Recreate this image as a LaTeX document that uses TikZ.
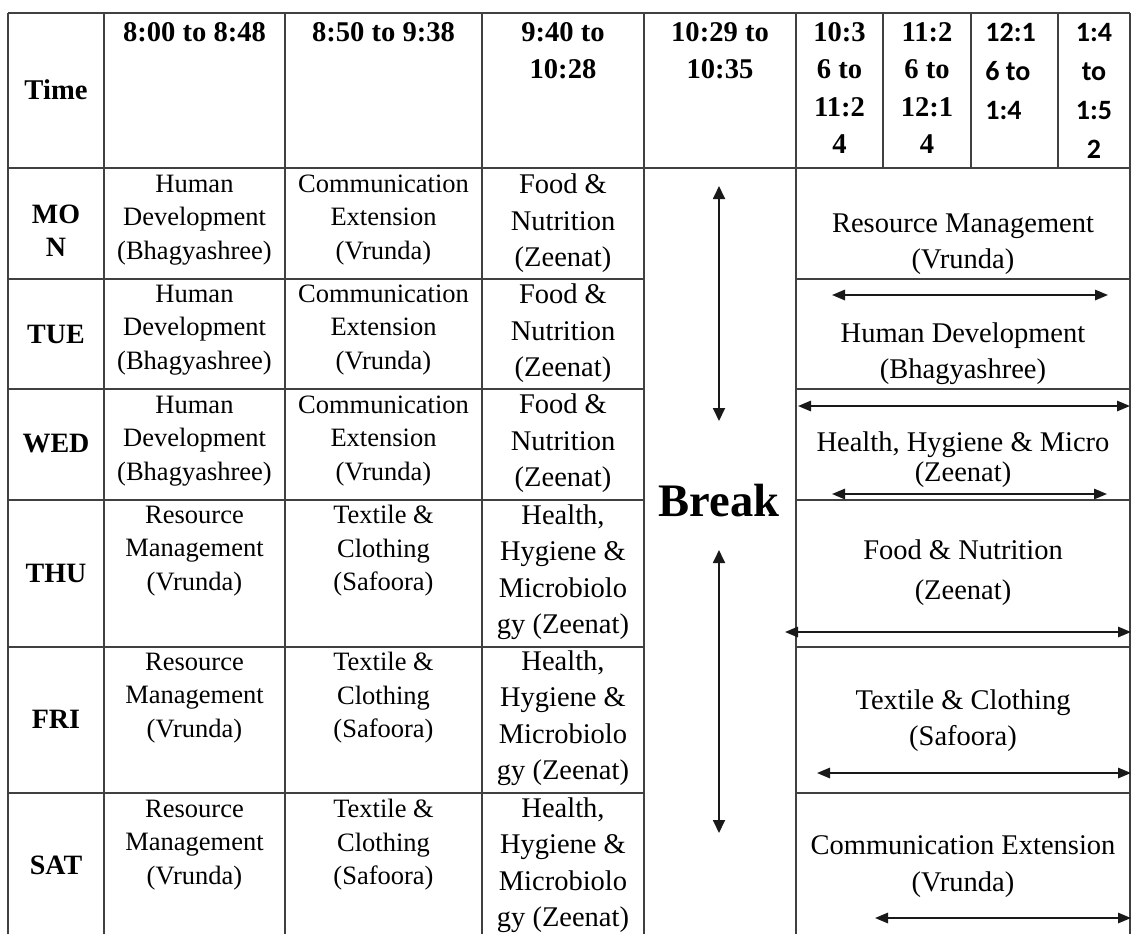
\documentclass[tikz,border=0pt]{standalone}
\usepackage{fontspec}
\setmainfont{Liberation Serif}
\newfontfamily\calib{Carlito}
\usetikzlibrary{arrows.meta}
\begin{document}
\begin{tikzpicture}[x=0.5pt,y=-0.5pt,
  grid/.style={draw=black!75,line width=0.9pt},
  hdr/.style={font=\bfseries\fontsize{14.3}{18.6}\selectfont,align=center,inner sep=0pt},
  hdrs/.style={font=\calib\bfseries\fontsize{14}{19.5}\selectfont,inner sep=0pt},
  day/.style={font=\bfseries\fontsize{14}{16.5}\selectfont,align=center,inner sep=0pt},
  cella/.style={font=\fontsize{13.25}{16.75}\selectfont,align=center,inner sep=0pt},
  cellb/.style={font=\fontsize{14.25}{18.25}\selectfont,align=center,inner sep=0pt},
  brk/.style={font=\bfseries\fontsize{23.3}{28}\selectfont,inner sep=0pt},
  twoway/.style={{Triangle[length=6.5pt,width=5.2pt]}-{Triangle[length=6.5pt,width=5.2pt]},line width=0.9pt,draw=black!90},
  twowayv/.style={{Triangle[length=6.5pt,width=6pt]}-{Triangle[length=6.5pt,width=6pt]},line width=0.9pt,draw=black!90}]
\useasboundingbox (0,0) rectangle (1131,934);
% grid
\draw[grid] (8,13) -- (1130,13);
\foreach \x in {8,104,285,482,644,796,1130} \draw[grid] (\x,13) -- (\x,934);
\foreach \x in {883,971,1058} \draw[grid] (\x,13) -- (\x,168);
\draw[grid] (8,168) -- (1130,168);
\foreach \y in {279,389,500,647,793} {
  \draw[grid] (8,\y) -- (644,\y);
  \draw[grid] (796,\y) -- (1130,\y);
}
% header
\node[hdr] (hTime) at (56,90) {Time};
\node[hdr] (h1) at (194.5,32) {8:00 to 8:48};
\node[hdr] (h2) at (383.5,32) {8:50 to 9:38};
\node[hdr] (h3) at (563,50.5) {9:40 to\\10:28};
\node[hdr] (h4) at (720,50.5) {10:29 to\\10:35};
\node[hdr] (h5) at (839.5,88) {10:3\\6 to\\11:2\\4};
\node[hdr] (h6) at (927,88) {11:2\\6 to\\12:1\\4};
\node[hdrs,align=left,anchor=west] (h7) at (985,71) {12:1\\6 to\\1:4};
\node[hdrs,align=center] (h8) at (1094,90.5) {1:4\\to\\1:5\\2};
% days
\node[day] (dMon) at (56,231) {MO\\N};
\node[day] (dTue) at (56,334) {TUE};
\node[day] (dWed) at (56,444) {WED};
\node[day] (dThu) at (56,573) {THU};
\node[day] (dFri) at (56,719) {FRI};
\node[day] (dSat) at (56,865) {SAT};
% column 1
\node[cella] (c1Mon) at (194.5,220) {Human\\Development\\(Bhagyashree)};
\node[cella] (c1Tue) at (194.5,330) {Human\\Development\\(Bhagyashree)};
\node[cella] (c1Wed) at (194.5,441) {Human\\Development\\(Bhagyashree)};
\node[cella] (c1Thu) at (194.5,551) {Resource\\Management\\(Vrunda)};
\node[cella] (c1Fri) at (194.5,698) {Resource\\Management\\(Vrunda)};
\node[cella] (c1Sat) at (194.5,845) {Resource\\Management\\(Vrunda)};
% column 2
\node[cella] (c2Mon) at (383.5,220) {Communication\\Extension\\(Vrunda)};
\node[cella] (c2Tue) at (383.5,330) {Communication\\Extension\\(Vrunda)};
\node[cella] (c2Wed) at (383.5,441) {Communication\\Extension\\(Vrunda)};
\node[cella] (c2Thu) at (383.5,551) {Textile \&\\Clothing\\(Safoora)};
\node[cella] (c2Fri) at (383.5,698) {Textile \&\\Clothing\\(Safoora)};
\node[cella] (c2Sat) at (383.5,845) {Textile \&\\Clothing\\(Safoora)};
% column 3
\node[cellb] (c3Mon) at (563,223.5) {Food \&\\Nutrition\\(Zeenat)};
\node[cellb] (c3Tue) at (563,333.5) {Food \&\\Nutrition\\(Zeenat)};
\node[cellb] (c3Wed) at (563,443.5) {Food \&\\Nutrition\\(Zeenat)};
\node[cellb] (c3Thu) at (563,572) {Health,\\Hygiene \&\\Microbiolo\\gy (Zeenat)};
\node[cellb] (c3Fri) at (563,718) {Health,\\Hygiene \&\\Microbiolo\\gy (Zeenat)};
\node[cellb] (c3Sat) at (563,865) {Health,\\Hygiene \&\\Microbiolo\\gy (Zeenat)};
% break
\node[brk] (brk) at (719,501) {Break};
\coordinate (bu1) at (719,186);
\coordinate (bd1) at (719,421);
\coordinate (bu2) at (719,550);
\coordinate (bd2) at (719,833);
\draw[twowayv] (bu1) -- (bd1);
\draw[twowayv] (bu2) -- (bd2);
% right merged
\node[cellb] (rMon) at (963,244) {Resource Management\\(Vrunda)};
\node[cellb] (rTue) at (963,353.5) {Human Development\\(Bhagyashree)};
\node[cellb,font=\fontsize{14.25}{15}\selectfont] (rWed) at (963,460) {Health, Hygiene \& Micro\\(Zeenat)};
\node[cellb,font=\fontsize{14.25}{20}\selectfont] (rThu) at (963,573) {Food \& Nutrition\\(Zeenat)};
\node[cellb] (rFri) at (963,720.5) {Textile \& Clothing\\(Safoora)};
\node[cellb] (rSat) at (963,866.5) {Communication Extension\\(Vrunda)};
% right arrows
\coordinate (aTueL) at (832,295);  \coordinate (aTueR) at (1108,295);
\coordinate (aWedL) at (798,406);  \coordinate (aWedR) at (1130,406);
\coordinate (aWed2L) at (832,494); \coordinate (aWed2R) at (1107,494);
\coordinate (aThuL) at (785,632);  \coordinate (aThuR) at (1131,632);
\coordinate (aFriL) at (817,773);  \coordinate (aFriR) at (1131,773);
\coordinate (aSatL) at (875,918);  \coordinate (aSatR) at (1131,918);
\draw[twoway] (aTueL) -- (aTueR);
\draw[twoway] (aWedL) -- (aWedR);
\draw[twoway] (aWed2L) -- (aWed2R);
\draw[twoway] (aThuL) -- (aThuR);
\draw[twoway] (aFriL) -- (aFriR);
\draw[twoway] (aSatL) -- (aSatR);
\end{tikzpicture}
\end{document}
